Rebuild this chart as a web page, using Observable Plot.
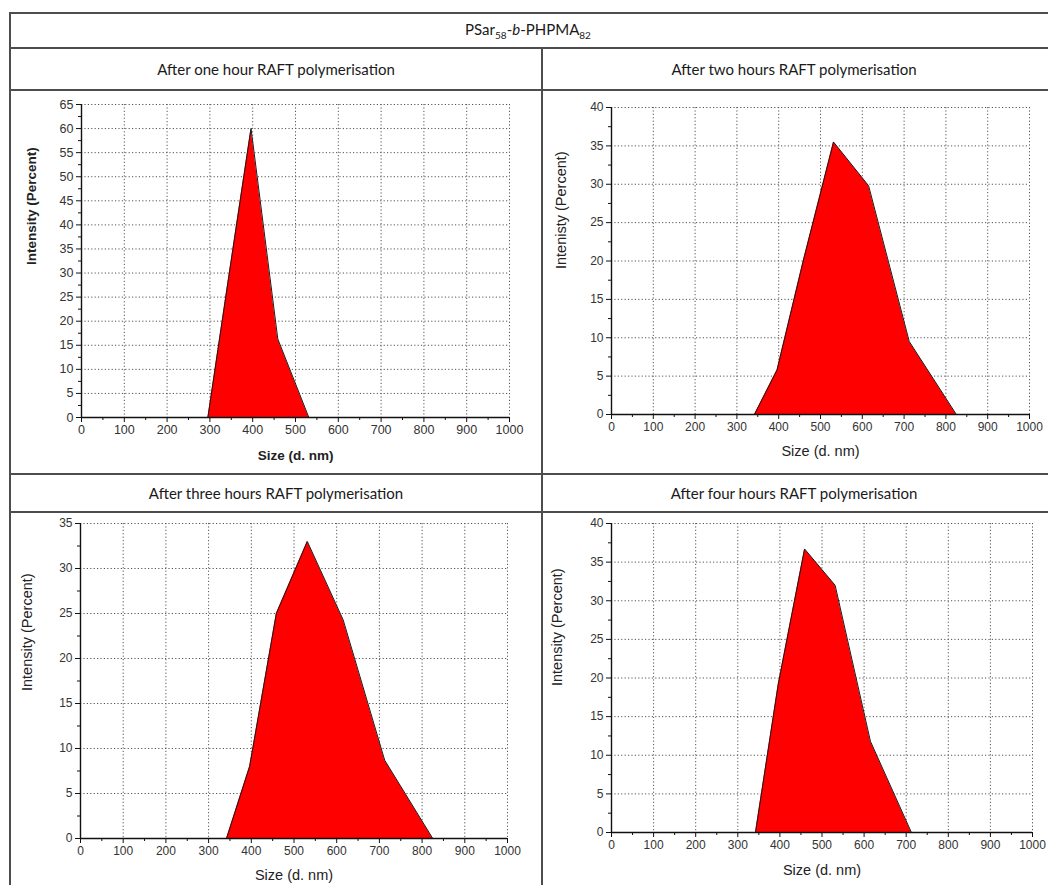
<!DOCTYPE html>
<html>
<head>
<meta charset="utf-8">
<script src="https://cdn.jsdelivr.net/npm/d3@7"></script>
<script src="https://cdn.jsdelivr.net/npm/@observablehq/plot@0.6"></script>
<style>
  html, body { margin: 0; padding: 0; background: #fff; }
  body { width: 1048px; height: 885px; overflow: hidden; position: relative; }
  .ln { position: absolute; background: #4d4d4d; }
  .hdr { position: absolute; text-align: center; font-family: Lato, "Open Sans", sans-serif; font-size: 15px; color: #1a1a1a; white-space: nowrap; }
  .panel { position: absolute; }
  .panel svg { display: block; font-family: "Liberation Sans", Arial, sans-serif; overflow: visible; }
</style>
</head>
<body>
<div id="root"></div>
<script>
// ---- data ----
const mainTitle = ["PSar", "58", "-", "b", "-PHPMA", "82"];
const panelTitles = [
  "After one hour RAFT polymerisation",
  "After two hours RAFT polymerisation",
  "After three hours RAFT polymerisation",
  "After four hours RAFT polymerisation"
];
const yLabels = ["Intensity (Percent)", "Intenisty (Percent)", "Intensity (Percent)", "Intensity (Percent)"];
const xLabel = "Size (d. nm)";

const sizes1 = [295.3, 342.0, 396.1, 458.7, 531.2];
const intensity1 = [0, 28, 60, 16.3, 0];

const sizes2 = [342.0, 396.1, 458.7, 531.2, 615.1, 712.4, 825.0];
const intensity2 = [0, 5.8, 20, 35.5, 29.8, 9.5, 0];

const sizes3 = [342.0, 396.1, 458.7, 531.2, 615.1, 712.4, 825.0];
const intensity3 = [0, 8, 25, 33, 24.3, 8.7, 0];

const sizes4 = [342.0, 396.1, 458.7, 531.2, 615.1, 712.4];
const intensity4 = [0, 19.2, 36.7, 32, 11.8, 0];

const yMaxes = [65, 40, 35, 40];
const xTicks = [0, 100, 200, 300, 400, 500, 600, 700, 800, 900, 1000];
const xMinorTicks = [50, 150, 250, 350, 450, 550, 650, 750, 850, 950];

const FONT = '"Liberation Sans", Arial, sans-serif';

// ---- table frame ----
const root = document.getElementById("root");
function line(x, y, w, h) {
  const d = document.createElement("div");
  d.className = "ln";
  Object.assign(d.style, {left: x + "px", top: y + "px", width: w + "px", height: h + "px"});
  root.appendChild(d);
}
line(10, 12, 1038, 2);   // top
line(10, 47, 1038, 2);   // under title
line(10, 89, 1038, 2);   // under first headers
line(10, 473, 1038, 2);  // above second headers
line(10, 511, 1038, 2);  // under second headers
line(9, 12, 2, 873);     // left
line(541, 47, 2, 838);   // middle

function header(html, x, y, w, h) {
  const d = document.createElement("div");
  d.className = "hdr";
  Object.assign(d.style, {left: x + "px", top: y + "px", width: w + "px", height: h + "px", lineHeight: h + "px"});
  d.innerHTML = html;
  root.appendChild(d);
}
header(`${mainTitle[0]}<sub style="font-size:10px">${mainTitle[1]}</sub>${mainTitle[2]}<i>${mainTitle[3]}</i>${mainTitle[4]}<sub style="font-size:10px">${mainTitle[5]}</sub>`, 11, 12, 1034, 34);
header(panelTitles[0], 11, 50, 530, 39);
header(panelTitles[1], 543, 50, 502, 39);
header(panelTitles[2], 11, 475, 530, 36);
header(panelTitles[3], 543, 475, 502, 36);

// ---- panels ----
function panel(cfg) {
  const data = cfg.sizes.map((s, i) => ({size: s, value: cfg.values[i]}));
  const yMajor = d3.range(0, cfg.yMax + 0.001, 5);
  const yMinor = d3.range(2.5, cfg.yMax, 5);
  const grid = {stroke: "#555", strokeOpacity: 1, strokeWidth: 1, strokeDasharray: "1.2,2.2"};
  const axisStyle = {label: null, stroke: "#111", fontFamily: FONT, fill: "#333"};
  const chart = Plot.plot({
    width: cfg.w, height: cfg.h,
    marginLeft: cfg.ml, marginRight: cfg.mr, marginTop: cfg.mt, marginBottom: cfg.mb,
    x: {domain: [0, 1000]},
    y: {domain: [0, cfg.yMax]},
    style: {fontFamily: FONT, fontSize: cfg.tickFont + "px", color: "#333", background: "white", overflow: "visible"},
    marks: [
      Plot.gridX(xTicks, grid),
      Plot.gridY(yMajor, grid),
      Plot.areaY(data, {x: "size", y: "value", fill: "#ff0000"}),
      Plot.line(data, {x: "size", y: "value", stroke: "#1a1a1a", strokeWidth: 1}),
      Plot.ruleY([0], {stroke: "#111", strokeWidth: 1.4}),
      Plot.ruleX([0], {stroke: "#111", strokeWidth: 1.4}),
      Plot.axisX(xTicks, {...axisStyle, tickSize: 5, tickPadding: 3, tickFormat: d3.format("d")}),
      Plot.axisX(xMinorTicks, {...axisStyle, tickSize: 3, tickFormat: () => ""}),
      Plot.axisY(yMajor, {...axisStyle, tickSize: 5, tickPadding: 3, tickFormat: d3.format("d")}),
      Plot.axisY(yMinor, {...axisStyle, tickSize: 3, tickFormat: () => ""}),
      Plot.text([cfg.ylabel], {frameAnchor: "left", rotate: -90, dx: cfg.ylDx, dy: cfg.ylDy, fontFamily: FONT, fontSize: cfg.labFont, fontWeight: cfg.bold ? "bold" : "normal", fill: "#222"}),
      Plot.text([xLabel], {frameAnchor: "bottom", dy: cfg.xlDy, fontFamily: FONT, fontSize: cfg.labFont, fontWeight: cfg.bold ? "bold" : "normal", fill: "#222"})
    ]
  });
  const holder = document.createElement("div");
  holder.className = "panel";
  holder.style.left = cfg.left + "px";
  holder.style.top = cfg.top + "px";
  holder.appendChild(chart);
  root.appendChild(holder);
}

panel({sizes: sizes1, values: intensity1, yMax: yMaxes[0], ylabel: yLabels[0], bold: true,
  left: 11, top: 91, w: 530, h: 382, ml: 70, mr: 32, mt: 13, mb: 56,
  tickFont: 12.5, labFont: 13.5, ylDx: -50, ylDy: 4, xlDy: 42});
panel({sizes: sizes2, values: intensity2, yMax: yMaxes[1], ylabel: yLabels[1], bold: false,
  left: 543, top: 91, w: 505, h: 382, ml: 68, mr: 19, mt: 16, mb: 59,
  tickFont: 12, labFont: 14.5, ylDx: -50, ylDy: 8, xlDy: 41});
panel({sizes: sizes3, values: intensity3, yMax: yMaxes[2], ylabel: yLabels[2], bold: false,
  left: 11, top: 513, w: 530, h: 372, ml: 69, mr: 34, mt: 10, mb: 47,
  tickFont: 12, labFont: 14.5, ylDx: -53, ylDy: 10, xlDy: 41});
panel({sizes: sizes4, values: intensity4, yMax: yMaxes[3], ylabel: yLabels[3], bold: false,
  left: 543, top: 513, w: 505, h: 372, ml: 68, mr: 16, mt: 10, mb: 53,
  tickFont: 12, labFont: 14.5, ylDx: -54, ylDy: 8, xlDy: 42});
</script>
</body>
</html>
